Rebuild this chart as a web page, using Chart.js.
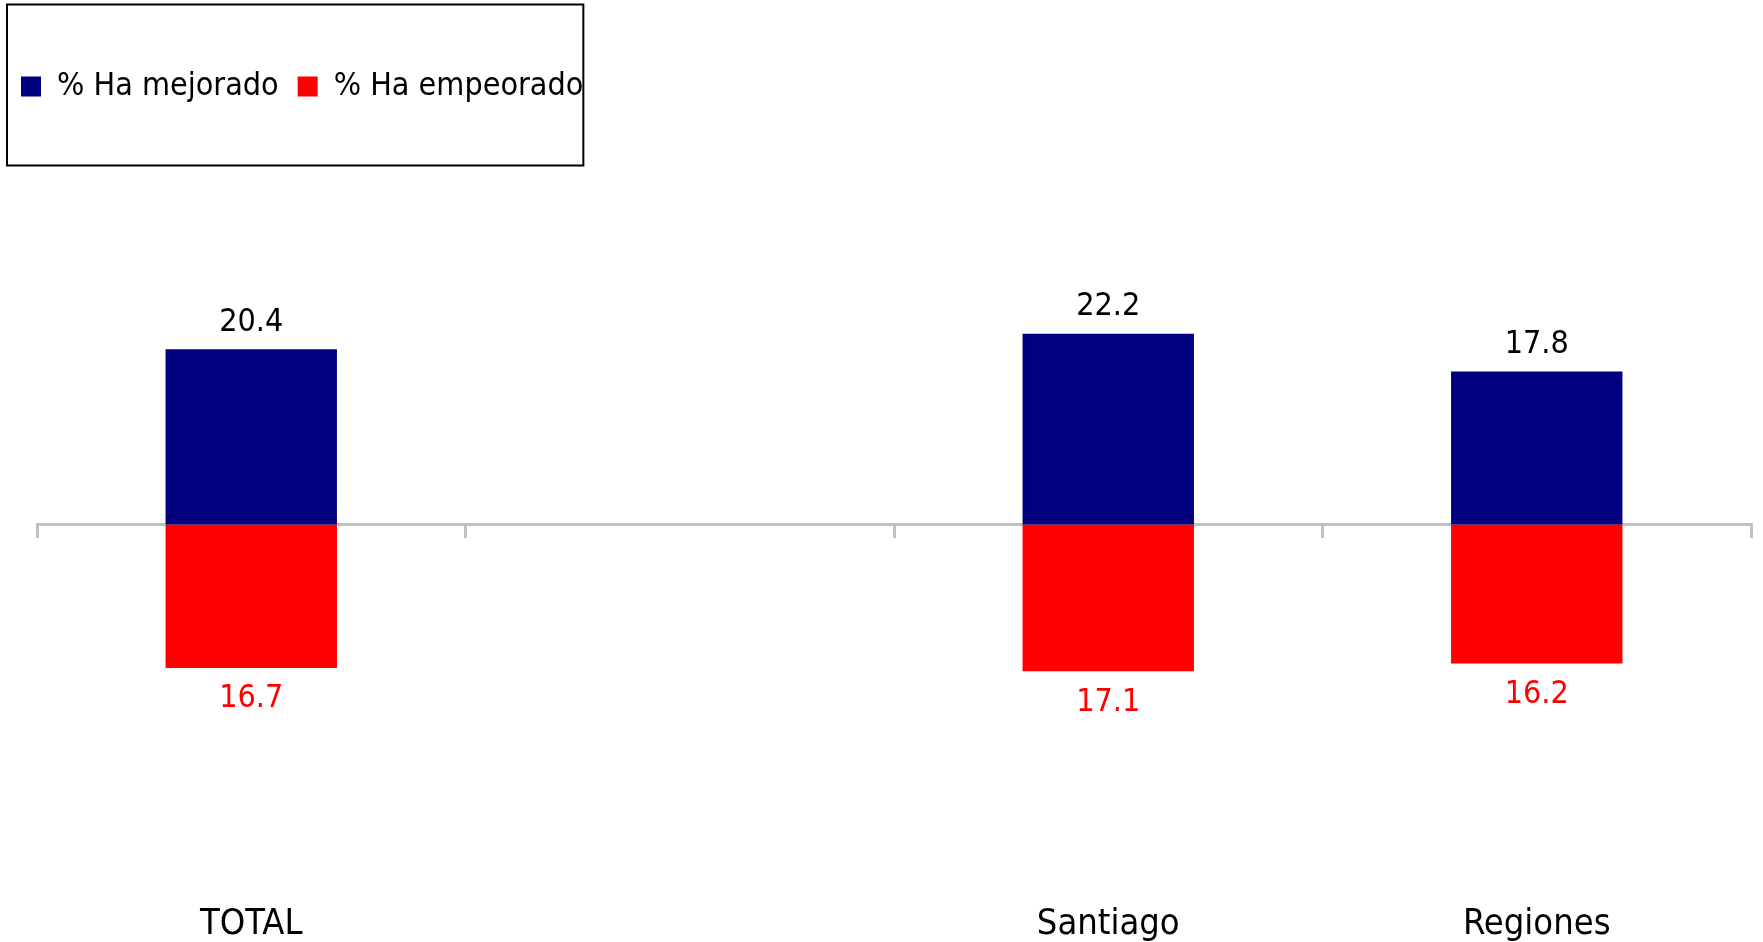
<!DOCTYPE html>
<html>
<head>
<meta charset="utf-8">
<script src="https://cdn.jsdelivr.net/npm/chart.js@4/dist/chart.umd.min.js"></script>
<style>
  body { margin: 0; background: #fff; }
  #wrap { width: 1763px; height: 942px; }
</style>
</head>
<body>
<div id="wrap"><canvas id="myChart" width="1763" height="942"></canvas></div>
<script>
const categories = ["TOTAL", "", "Santiago", "Regiones"];
const mejorado = [20.4, null, 22.2, 17.8];
const empeorado = [16.7, null, 17.1, 16.2];

const FONT = "'DejaVu Sans Condensed', 'DejaVu Sans', sans-serif";

// value labels above / below each bar
const valueLabels = {
  id: "valueLabels",
  afterDatasetsDraw(chart) {
    const ctx = chart.ctx;
    ctx.save();
    ctx.font = "32px " + FONT;
    ctx.textAlign = "center";
    ctx.textBaseline = "middle";
    chart.data.datasets.forEach((ds, di) => {
      const meta = chart.getDatasetMeta(di);
      meta.data.forEach((bar, i) => {
        const v = ds.data[i];
        if (v === null || v === undefined) return;
        const txt = Math.abs(v).toFixed(1);
        if (v >= 0) {
          ctx.fillStyle = "#000000";
          ctx.fillText(txt, bar.x, bar.y - 27);
        } else {
          ctx.fillStyle = "#FF0000";
          ctx.fillText(txt, bar.x, bar.y + 31);
        }
      });
    });
    ctx.restore();
  },
};

// frame round the legend
const legendFrame = {
  id: "legendFrame",
  afterDraw(chart) {
    const lg = chart.legend;
    if (!lg || !lg.legendHitBoxes.length) return;
    const hb = lg.legendHitBoxes;
    const first = hb[0];
    const last = hb[hb.length - 1];
    const cy = first.top + first.height / 2;
    const ctx = chart.ctx;
    ctx.save();
    ctx.strokeStyle = "#000";
    ctx.lineWidth = 2;
    ctx.strokeRect(first.left - 14, cy - 82, last.left + last.width - (first.left - 14), 161);
    ctx.restore();
  },
};

const config = {
  type: "bar",
  data: {
    labels: categories,
    datasets: [
      {
        label: "% Ha mejorado",
        data: mejorado,
        backgroundColor: "#000080",
        borderWidth: 0,
      },
      {
        label: "% Ha empeorado",
        data: empeorado.map((v) => (v === null ? null : -v)),
        backgroundColor: "#FF0000",
        borderWidth: 0,
      },
    ],
  },
  options: {
    responsive: false,
    animation: false,
    categoryPercentage: 1,
    barPercentage: 0.4,
    layout: {
      padding: { top: 51.5, left: 2, right: 12, bottom: -7 },
    },
    plugins: {
      tooltip: { enabled: false },
      legend: {
        position: "top",
        align: "start",
        labels: {
          boxWidth: 20,
          boxHeight: 20,
          padding: 19,
          color: "#000",
          font: { family: FONT, size: 32 },
        },
      },
    },
    scales: {
      x: {
        stacked: true,
        position: { y: 0 },
        offset: true,
        z: 1,
        grid: {
          offset: true,
          drawOnChartArea: false,
          drawTicks: true,
          tickLength: 12,
          color: "#c0c0c0",
          lineWidth: 3,
        },
        border: { display: true, color: "#c0c0c0", width: 3 },
        ticks: { display: false },
      },
      xl: {
        type: "category",
        position: "bottom",
        offset: true,
        grid: { display: false, drawTicks: false },
        border: { display: false },
        ticks: {
          color: "#000",
          padding: 3,
          maxRotation: 0,
          autoSkip: false,
          font: { family: FONT, size: 36 },
        },
      },
      y: {
        stacked: true,
        min: -43.7,
        max: 47.97,
        grid: { display: false },
        border: { display: false },
        ticks: { display: false },
        afterFit(scale) {
          scale.width = 35;
        },
      },
    },
  },
  plugins: [valueLabels, legendFrame],
};

var myChart = new Chart(document.getElementById("myChart"), config);
</script>
</body>
</html>
